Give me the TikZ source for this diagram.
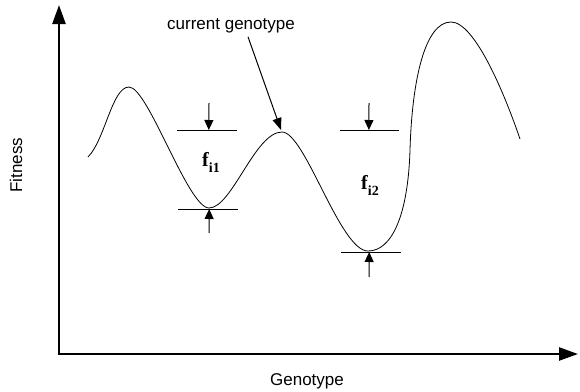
\documentclass[tikz,border=0pt]{standalone}
\usepackage{fontspec}
\setmainfont{Liberation Sans}
\newfontfamily\timesfont{Liberation Serif}
\usetikzlibrary{arrows.meta, calc}

\begin{document}
\begin{tikzpicture}[
    x=1pt, y=-1pt,
    axis/.style={draw, line width=2.4pt, line join=miter, {Triangle[length=19pt, width=13pt]}-{Triangle[length=19pt, width=13pt]}},
    landscape/.style={draw, line width=0.8pt},
    level/.style={draw, line width=0.8pt},
    gap/.style={draw, line width=1pt, -{Triangle[length=10pt, width=9pt]}},
    pointer/.style={draw, line width=1pt, -{Triangle[length=12pt, width=9pt]}},
    label/.style={font=\fontsize{17}{19}\selectfont},
    height/.style={font=\timesfont\bfseries\fontsize{20}{22}\selectfont, inner sep=0pt}
]
    \useasboundingbox (0,0) rectangle (580,391);

    % Axes
    \coordinate (ytip) at (59,5);
    \coordinate (origin) at (59,354);
    \coordinate (xtip) at (578,354);
    \draw[axis] (ytip) -- (origin) -- (xtip);

    \node[label, rotate=90] (fitness) at (16,165) {Fitness};
    \node[label] (genotype) at (307,381) {Genotype};

    % Fitness landscape
    \draw[landscape] (88,157) .. controls (105,140) and (112,87) .. (129,87)
        .. controls (148,87) and (188,208) .. (209,208)
        .. controls (232,208) and (255,132) .. (282,132)
        .. controls (305,132) and (340,251) .. (368,251)
        .. controls (392,251) and (408,215) .. (410,150)
        .. controls (412,80) and (425,22) .. (451,22)
        .. controls (475,22) and (505,95) .. (520,139);

    % Current genotype
    \node[label] (current) at (231,26) {current genotype};
    \coordinate (peak) at (281,130);
    \draw[pointer] ([xshift=17pt]current.south) -- (peak);

    % First fitness gap
    \coordinate (top1l) at (177,130);
    \coordinate (top1r) at (237,130);
    \coordinate (bot1l) at (178,209);
    \coordinate (bot1r) at (238,209);
    \draw[level] (top1l) -- (top1r);
    \draw[level] (bot1l) -- (bot1r);
    \coordinate (down1) at (209,103);
    \coordinate (up1) at (209,233);
    \draw[gap] (down1) -- ($(top1l)!0.53!(top1r)$);
    \draw[gap] (up1) -- ($(bot1l)!0.52!(bot1r)$);
    \node[height] (gap1) at (211,162) {f\raisebox{-6pt}{\fontsize{14}{14}\selectfont i1}};

    % Second fitness gap
    \coordinate (top2l) at (340,130);
    \coordinate (top2r) at (399,130);
    \coordinate (bot2l) at (341,252);
    \coordinate (bot2r) at (401,252);
    \draw[level] (top2l) -- (top2r);
    \draw[level] (bot2l) -- (bot2r);
    \coordinate (down2) at (369,103);
    \coordinate (up2) at (369,277);
    \draw[gap] (down2) -- ($(top2l)!0.49!(top2r)$);
    \draw[gap] (up2) -- ($(bot2l)!0.47!(bot2r)$);
    \node[height] (gap2) at (370,185) {f\raisebox{-6pt}{\fontsize{14}{14}\selectfont i2}};

\end{tikzpicture}
\end{document}
